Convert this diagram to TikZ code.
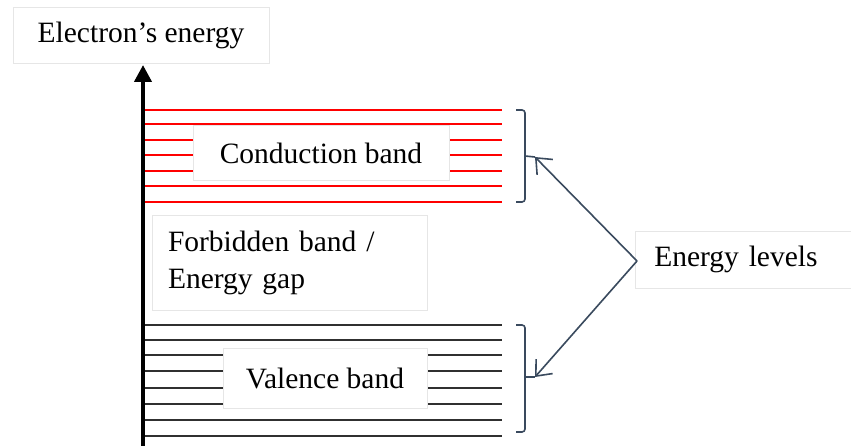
\documentclass[tikz,border=0pt]{standalone}
\usepackage{fontspec}
\setmainfont{Liberation Serif}
\usetikzlibrary{arrows.meta}
\definecolor{slate}{HTML}{3A4A5E}
\definecolor{boxline}{HTML}{E6E6E6}
\definecolor{vline}{HTML}{303030}
\tikzset{
  lbl/.style={draw=boxline, line width=0.6pt, fill=white, inner sep=0pt, font=\fontsize{29.5}{37}\selectfont},
  redlvl/.style={draw=red, line width=1.8pt},
  blklvl/.style={draw=vline, line width=1.8pt},
  brk/.style={draw=slate, line width=1.6pt, rounded corners=3pt},
  pointer/.style={draw=slate, line width=1.6pt, -{Straight Barb[length=13pt,width=22pt]}}
}
\begin{document}
\begin{tikzpicture}[x=1pt,y=-1pt]
\clip (0,0) rectangle (851,446);
\fill[white] (0,0) rectangle (851,446);
% conduction band levels
\foreach \y in {110,124,140,155,171,186,202}{
  \draw[redlvl] (143,\y) -- (502,\y);
}
% valence band levels
\foreach \y in {325,340,355,371,388,404,420,436}{
  \draw[blklvl] (143,\y) -- (502,\y);
}
% axis
\coordinate (axb) at (143,450);
\coordinate (axt) at (143,65);
\draw[line width=4pt, -{Triangle[length=17pt,width=17pt]}] (axb) -- (axt);
% labels
\node[lbl, minimum width=256pt, minimum height=56pt] (ee) at (141,35) {Electron’s energy};
\node[lbl, minimum width=256pt, minimum height=55pt] (cb) at (321,153) {Conduction band};
\node[lbl, minimum width=204pt, minimum height=60pt] (vb) at (325,378) {Valence band};
\node[lbl, minimum width=275pt, minimum height=95pt, text width=243pt, inner xsep=16pt, align=left] (fb) at (289.5,262.5) {Forbidden band /\\Energy gap};
\node[lbl, minimum width=220pt, minimum height=57pt, anchor=west, text width=200pt, inner xsep=19pt, align=left] (el) at (635,259.5) {Energy levels};
% brackets
\draw[brk] (516,110) -- (525,110) -- (525,202) -- (516,202);
\draw[brk] (516,325) -- (525,325) -- (525,432) -- (516,432);
\coordinate (cbt) at (535,157);
\coordinate (vbt) at (535,377);
\draw[draw=slate, line width=1.6pt] (525,156) -- (cbt);
\draw[draw=slate, line width=1.6pt] (525,377) -- (vbt);
% pointers
\coordinate (elp) at (637,261);
\draw[pointer] (elp) -- (cbt);
\draw[pointer] (elp) -- (vbt);
\end{tikzpicture}
\end{document}
